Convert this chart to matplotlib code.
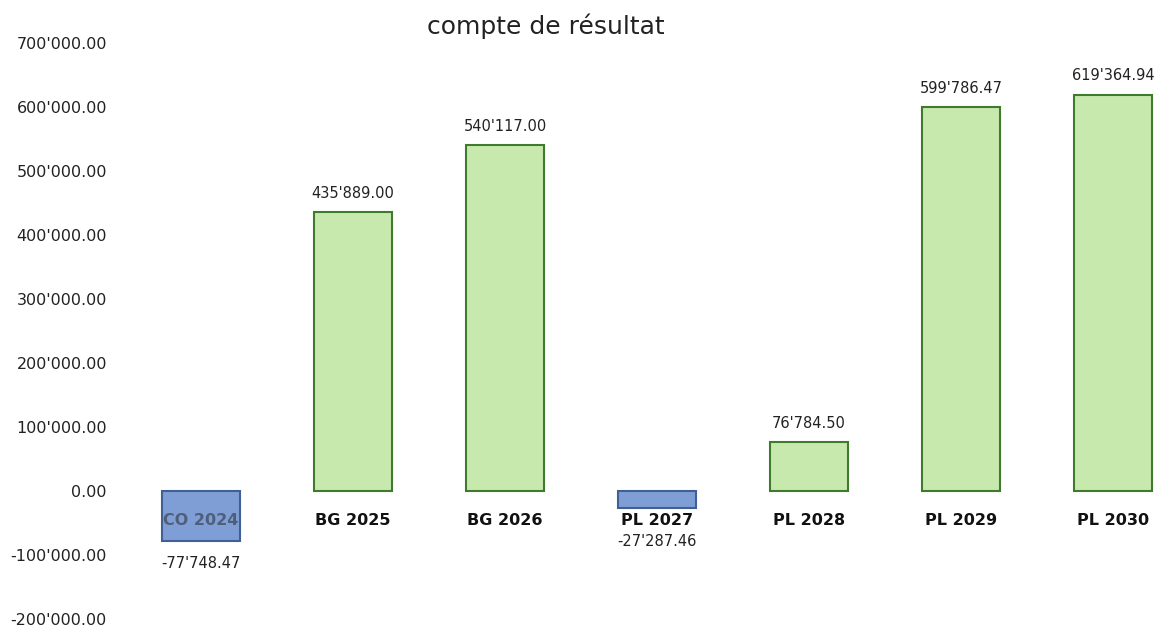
import matplotlib.pyplot as plt
from matplotlib.ticker import FuncFormatter

# data
categories = ["CO 2024", "BG 2025", "BG 2026", "PL 2027", "PL 2028", "PL 2029", "PL 2030"]
values = [-77748.47, 435889.00, 540117.00, -27287.46, 76784.50, 599786.47, 619364.94]
y_ticks = [-200000, -100000, 0, 100000, 200000, 300000, 400000, 500000, 600000, 700000]

GREEN, GREEN_EDGE = "#c8e9ae", "#3e7b2c"
BLUE, BLUE_EDGE = "#7f9ed6", "#3f5f95"


def swiss(v):
    # 435'889.00 style
    return f"{v:,.2f}".replace(",", "'")


fig = plt.figure(figsize=(11.61, 6.27), dpi=100)
ax = fig.add_axes([0.1077, 0.0128, 0.8923, 0.9187])

x = list(range(len(categories)))
colors = [GREEN if v >= 0 else BLUE for v in values]
edges = [GREEN_EDGE if v >= 0 else BLUE_EDGE for v in values]
ax.bar(x, values, width=0.51, color=colors, edgecolor=edges, linewidth=1.5, zorder=2)

ax.set_xlim(-0.5, 6.316)
ax.set_ylim(-200000, 700000)
ax.set_yticks(y_ticks)
ax.yaxis.set_major_formatter(FuncFormatter(lambda y, _: swiss(y)))
ax.tick_params(axis="y", length=0, pad=13, labelsize=11.5, labelcolor="#222222")
ax.set_xticks([])
for s in ax.spines.values():
    s.set_visible(False)

# category labels sit just under the zero line
for i, name in enumerate(categories):
    col = "#4f5f7a" if i == 0 else "#111111"
    ax.annotate(name, xy=(i, 0), xytext=(0, -21), textcoords="offset points",
                ha="center", va="center", fontsize=11.5, fontweight="bold",
                color=col, zorder=3)

# value labels
for i, v in enumerate(values):
    if v >= 0:
        ax.annotate(swiss(v), xy=(i, v), xytext=(0, 13.5), textcoords="offset points",
                    ha="center", va="center", fontsize=10.5, color="#222222")
    else:
        ax.annotate(swiss(v), xy=(i, min(v, -43600)), xytext=(0, -16.5),
                    textcoords="offset points", ha="center", va="center",
                    fontsize=10.5, color="#222222")

fig.text(0.47, 0.958, "compte de résultat", ha="center", va="center",
         fontsize=18, color="#222222")

fig.savefig("out.png", dpi=100)
